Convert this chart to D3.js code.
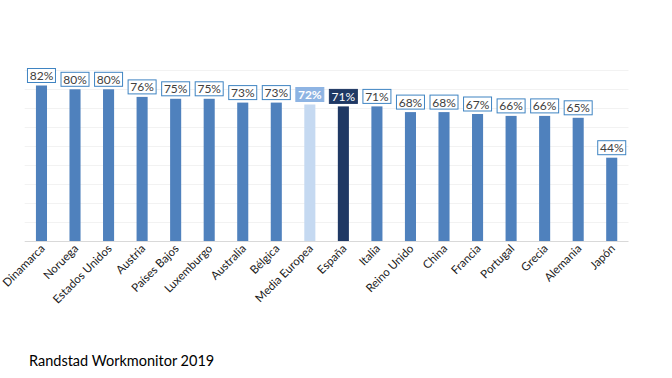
<!DOCTYPE html>
<html>
<head>
<meta charset="utf-8">
<script src="https://cdn.jsdelivr.net/npm/d3@7"></script>
<style>
  body { margin: 0; background: #fff; }
  svg { display: block; font-family: Lato, "Open Sans", sans-serif; }
</style>
</head>
<body>
<div id="chart"></div>
<script>
var countries = ["Dinamarca", "Noruega", "Estados Unidos", "Austria", "Países Bajos", "Luxemburgo",
  "Australia", "Bélgica", "Media Europea", "España", "Italia", "Reino Unido", "China", "Francia",
  "Portugal", "Grecia", "Alemania", "Japón"];
var values = [82, 80, 80, 76, 75, 75, 73, 73, 72, 71, 71, 68, 68, 67, 66, 66, 65, 44];
var gridTicks = [0, 10, 20, 30, 40, 50, 60, 70, 80, 90];
var source = "Randstad Workmonitor 2019";

function init() {
  var w = 672, h = 378;
  var padLeft = 24.7, padRight = 628.5, padTop = 70.3, padBottom = 241.3;

  var svg = d3.select("#chart").append("svg").attr("width", w).attr("height", h);

  var x = d3.scaleBand().domain(countries).range([padLeft, padRight]).paddingInner(0.67).paddingOuter(0.335);
  var y = d3.scaleLinear().domain([0, 90]).range([padBottom, padTop]);

  function barColor(d) {
    if (d === "España") return "#1f3864";
    if (d === "Media Europea") return "#c5d9f1";
    return "#4f81bd";
  }

  // faint gridlines
  svg.append("g").selectAll("line").data(gridTicks.slice(1)).enter().append("line")
    .attr("x1", padLeft).attr("x2", padRight)
    .attr("y1", function(d) { return Math.round(y(d)) + 0.5; })
    .attr("y2", function(d) { return Math.round(y(d)) + 0.5; })
    .attr("stroke", "#f2f2f2").attr("stroke-width", 1);

  // bars
  var data = countries.map(function(c, i) { return { name: c, v: values[i] }; });
  svg.append("g").selectAll("rect").data(data).enter().append("rect")
    .attr("x", function(d) { return x(d.name); })
    .attr("width", x.bandwidth())
    .attr("y", function(d) { return y(d.v); })
    .attr("height", function(d) { return y(0) - y(d.v); })
    .attr("fill", function(d) { return barColor(d.name); });

  // baseline
  svg.append("line").attr("x1", padLeft).attr("x2", padRight)
    .attr("y1", Math.round(y(0)) + 0.5).attr("y2", Math.round(y(0)) + 0.5)
    .attr("stroke", "#d9d9d9").attr("stroke-width", 1);

  // value labels in boxes
  var lab = svg.append("g").selectAll("g").data(data).enter().append("g")
    .attr("transform", function(d) {
      return "translate(" + (x(d.name) + x.bandwidth() / 2) + "," + (y(d.v) - 3) + ")";
    });
  lab.append("rect")
    .attr("x", -14).attr("y", -14).attr("width", 28).attr("height", 14)
    .attr("fill", function(d) {
      if (d.name === "España") return "#1f3864";
      if (d.name === "Media Europea") return "#8eb4e3";
      return "#fff";
    })
    .attr("stroke", function(d) {
      if (d.name === "España") return "#1f3864";
      if (d.name === "Media Europea") return "#8eb4e3";
      return "#3f84c2";
    })
    .attr("stroke-width", 1);
  lab.append("text")
    .attr("x", 0).attr("y", -2.5)
    .attr("text-anchor", "middle")
    .attr("font-size", 12)
    .attr("font-weight", function(d) { return d.name === "Media Europea" ? "bold" : "normal"; })
    .attr("fill", function(d) {
      return (d.name === "España" || d.name === "Media Europea") ? "#fff" : "#404040";
    })
    .text(function(d) { return d.v + "%"; });

  // x axis labels
  var xAxis = d3.axisBottom(x).tickSize(0).tickPadding(0);
  var gx = svg.append("g").attr("transform", "translate(0," + padBottom + ")").call(xAxis);
  gx.select(".domain").remove();
  gx.selectAll("text")
    .attr("font-family", "Lato, 'Open Sans', sans-serif")
    .attr("font-size", 11.5)
    .attr("fill", "#1a1a1a")
    .attr("text-anchor", "end")
    .attr("dy", null)
    .attr("y", 0)
    .attr("transform", "translate(4,8) rotate(-45)");

  // source note
  svg.append("text").attr("x", 29).attr("y", 366)
    .attr("font-size", 14.5).attr("fill", "#000")
    .text(source);
}

window.onload = init;
</script>
</body>
</html>
